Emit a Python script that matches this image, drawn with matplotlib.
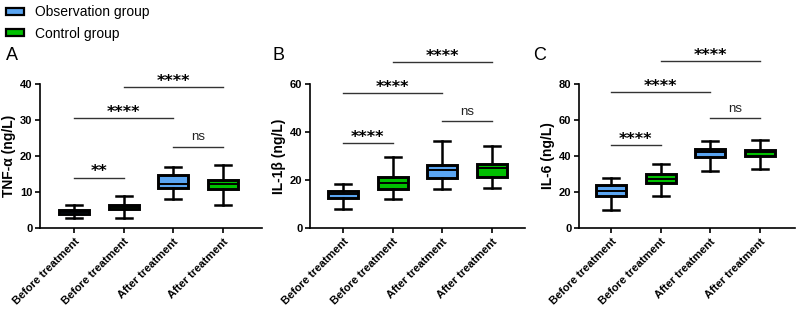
import matplotlib
matplotlib.use("Agg")
import matplotlib.pyplot as plt
from matplotlib.patches import Patch

plt.rcParams["font.family"] = ["Liberation Sans", "DejaVu Sans"]

categories = ["Before treatment", "Before treatment", "After treatment", "After treatment"]
group_names = ["Observation group", "Control group"]
BLUE = "#5aa5f2"
GREEN = "#00c000"
box_colors = [BLUE, GREEN, BLUE, GREEN]

# five-number summaries
tnf_lo = [2.7, 2.7, 7.9, 6.3]
tnf_q1 = [3.9, 5.1, 11.0, 10.7]
tnf_med = [4.5, 5.8, 12.3, 12.1]
tnf_q3 = [5.0, 6.3, 14.6, 13.3]
tnf_hi = [6.3, 8.8, 17.0, 17.4]

il1_lo = [7.8, 12.0, 16.0, 16.5]
il1_q1 = [12.4, 16.3, 20.8, 21.3]
il1_med = [14.1, 18.5, 24.1, 24.8]
il1_q3 = [15.5, 21.3, 26.1, 26.5]
il1_hi = [18.1, 29.4, 36.3, 34.3]

il6_lo = [9.7, 17.7, 31.6, 32.7]
il6_q1 = [17.9, 24.9, 39.6, 40.2]
il6_med = [20.5, 27.3, 42.0, 42.0]
il6_q3 = [23.6, 29.8, 44.1, 43.3]
il6_hi = [27.5, 35.7, 48.4, 49.1]

# significance brackets: (from, to, height, label)
tnf_sig = [(0, 1, 14.0, "**"), (0, 2, 30.7, "****"), (2, 3, 22.6, "ns"), (1, 3, 39.3, "****")]
il1_sig = [(0, 1, 35.6, "****"), (0, 2, 56.2, "****"), (2, 3, 44.6, "ns"), (1, 3, 69.2, "****")]
il6_sig = [(0, 1, 46.0, "****"), (0, 2, 75.9, "****"), (2, 3, 61.2, "ns"), (1, 3, 93.0, "****")]

panels = [
    dict(letter="A", ylabel="TNF-α (ng/L)", ymax=40, yticks=[0, 10, 20, 30, 40],
         stats=(tnf_lo, tnf_q1, tnf_med, tnf_q3, tnf_hi), sig=tnf_sig,
         px=(40, 74, 262), letter_x=6),
    dict(letter="B", ylabel="IL-1β (ng/L)", ymax=60, yticks=[0, 20, 40, 60],
         stats=(il1_lo, il1_q1, il1_med, il1_q3, il1_hi), sig=il1_sig,
         px=(310, 343, 525), letter_x=272),
    dict(letter="C", ylabel="IL-6 (ng/L)", ymax=80, yticks=[0, 20, 40, 60, 80],
         stats=(il6_lo, il6_q1, il6_med, il6_q3, il6_hi), sig=il6_sig,
         px=(579, 611, 795), letter_x=533),
]

W, H = 800, 319
STEP = 49.7  # pixels between categories
AX_TOP, AX_BOT = 84.3, 227.7

fig = plt.figure(figsize=(W / 100, H / 100), dpi=100, facecolor="white")

for p in panels:
    left, first, right = p["px"]
    ax = fig.add_axes([left / W, 1 - AX_BOT / H, (right - left) / W, (AX_BOT - AX_TOP) / H])
    lo, q1, med, q3, hi = p["stats"]
    bstats = [
        dict(whislo=lo[i], q1=q1[i], med=med[i], q3=q3[i], whishi=hi[i], fliers=[])
        for i in range(len(categories))
    ]
    boxes = ax.bxp(
        bstats,
        positions=range(len(categories)),
        widths=0.6,
        patch_artist=True,
        showfliers=False,
        boxprops=dict(linewidth=2.1, edgecolor="black"),
        whiskerprops=dict(linewidth=1.8, color="black"),
        capprops=dict(linewidth=1.8, color="black"),
        medianprops=dict(linewidth=1.4, color="black"),
        capwidths=0.32,
    )
    for patch, c in zip(boxes["boxes"], box_colors):
        patch.set_facecolor(c)

    ax.set_xlim(-(first - left) / STEP, (right - first) / STEP)
    ax.set_ylim(0, p["ymax"])
    ax.set_yticks(p["yticks"])
    ax.set_xticks(range(len(categories)))
    ax.set_xticklabels(categories, rotation=45, ha="right", rotation_mode="anchor",
                       fontsize=8, fontweight="bold")
    for lab in ax.get_yticklabels():
        lab.set_fontweight("bold")
        lab.set_fontsize(8)
    ax.tick_params(axis="both", direction="out", length=3.5, width=1.2, pad=2)
    ax.tick_params(axis="x", pad=3)
    for s in ("top", "right"):
        ax.spines[s].set_visible(False)
    for s in ("left", "bottom"):
        ax.spines[s].set_linewidth(1.2)
    ax.set_ylabel(p["ylabel"], fontsize=10, fontweight="bold", labelpad=3)

    for i, j, y, label in p["sig"]:
        ax.plot([i, j], [y, y], color="#333333", linewidth=1.0, clip_on=False)
        if label == "ns":
            ax.annotate(label, xy=((i + j) / 2, y), xytext=(0, 4.5), textcoords="offset points",
                        ha="center", va="baseline", fontsize=9.5, color="#222222",
                        annotation_clip=False)
        else:
            ax.annotate(label, xy=((i + j) / 2, y), xytext=(0, 0.8), textcoords="offset points",
                        ha="center", va="baseline", fontsize=11.5, fontweight="bold",
                        family="DejaVu Sans", annotation_clip=False)

    fig.text(p["letter_x"] / W, 1 - 60 / H, p["letter"], fontsize=13, ha="left", va="baseline")

handles = [
    Patch(facecolor=BLUE, edgecolor="black", linewidth=1.6, label=group_names[0]),
    Patch(facecolor=GREEN, edgecolor="black", linewidth=1.6, label=group_names[1]),
]
fig.legend(handles=handles, loc="upper left", bbox_to_anchor=(6 / W, 1 - 5 / H),
           frameon=False, fontsize=10, handlelength=1.3, handleheight=0.4,
           handletextpad=0.8, labelspacing=0.55, borderpad=0, borderaxespad=0)

fig.savefig("out.png", dpi=100, facecolor="white")
